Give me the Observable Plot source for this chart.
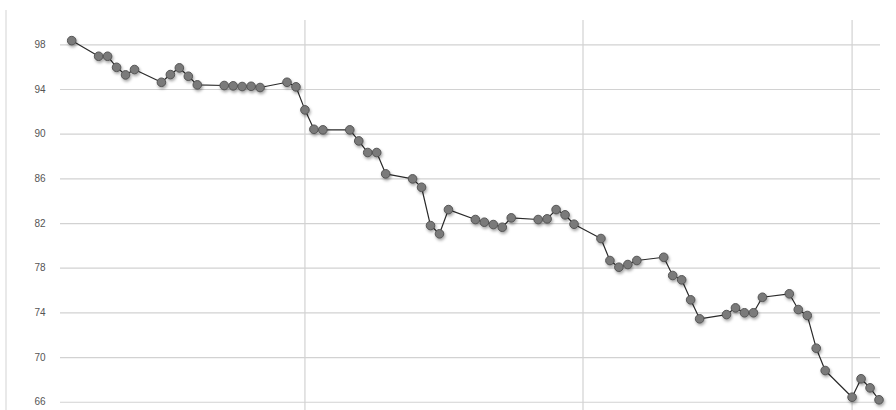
<!DOCTYPE html>
<html>
<head>
<meta charset="utf-8">
<script src="https://cdn.jsdelivr.net/npm/d3@7"></script>
<script src="https://cdn.jsdelivr.net/npm/@observablehq/plot@0.6"></script>
<style>
  html, body { margin: 0; padding: 0; background: #fff; }
  #wrap { position: relative; width: 896px; height: 410px; overflow: hidden; }
  #edge { position: absolute; left: 5px; top: 10px; width: 2px; height: 400px; background: #e9e9e9; }
</style>
</head>
<body>
<div id="wrap"><div id="edge"></div></div>
<script>
const dates = [
  "2014-09-05",
  "2014-09-08","2014-09-09","2014-09-10","2014-09-11","2014-09-12",
  "2014-09-15","2014-09-16","2014-09-17","2014-09-18","2014-09-19",
  "2014-09-22","2014-09-23","2014-09-24","2014-09-25","2014-09-26",
  "2014-09-29","2014-09-30","2014-10-01","2014-10-02","2014-10-03",
  "2014-10-06","2014-10-07","2014-10-08","2014-10-09","2014-10-10",
  "2014-10-13","2014-10-14","2014-10-15","2014-10-16","2014-10-17",
  "2014-10-20","2014-10-21","2014-10-22","2014-10-23","2014-10-24",
  "2014-10-27","2014-10-28","2014-10-29","2014-10-30","2014-10-31",
  "2014-11-03","2014-11-04","2014-11-05","2014-11-06","2014-11-07",
  "2014-11-10","2014-11-11","2014-11-12","2014-11-13","2014-11-14",
  "2014-11-17","2014-11-18","2014-11-19","2014-11-20","2014-11-21",
  "2014-11-24","2014-11-25","2014-11-26","2014-11-27","2014-11-28",
  "2014-12-01","2014-12-02","2014-12-03","2014-12-04"
];
const values = [
  98.38,
  96.98, 96.98, 95.99, 95.31, 95.79,
  94.65, 95.34, 95.94, 95.19, 94.42,
  94.36, 94.33, 94.27, 94.29, 94.18,
  94.65, 94.24, 92.18, 90.44, 90.39,
  90.39, 89.40, 88.36, 88.36, 86.45,
  86.00, 85.25, 81.82, 81.08, 83.25,
  82.36, 82.12, 81.91, 81.67, 82.51,
  82.36, 82.42, 83.25, 82.78, 81.94,
  80.66, 78.69, 78.09, 78.33, 78.69,
  78.98, 77.35, 76.96, 75.17, 73.47,
  73.85, 74.45, 74.01, 74.01, 75.40,
  75.71, 74.30, 73.77, 70.84, 68.84,
  66.45, 68.10, 67.29, 66.22
];
const yTicks = [66, 70, 74, 78, 82, 86, 90, 94, 98];
const monthTicks = ["2014-10-01", "2014-11-01", "2014-12-01"];

const data = dates.map((d, i) => ({date: new Date(d + "T00:00:00Z"), value: values[i]}));
const months = monthTicks.map(d => new Date(d + "T00:00:00Z"));

const chart = Plot.plot({
  width: 896,
  height: 410,
  marginLeft: 60,
  marginRight: 16,
  marginTop: 20,
  marginBottom: 0,
  style: {fontFamily: "'Liberation Sans', Arial, sans-serif", fontSize: "10px", background: "transparent", color: "#555"},
  x: {type: "utc", domain: [new Date("2014-09-03T18:00:00Z"), new Date("2014-12-04T04:00:00Z")], axis: null},
  y: {domain: [65.26, 100.18], ticks: yTicks, tickSize: 0, tickPadding: 15, label: null, tickFormat: d => String(d)},
  marks: [
    Plot.ruleY(yTicks, {stroke: "#d2d2d2", strokeWidth: 1.2}),
    Plot.ruleX(months, {stroke: "#d2d2d2", strokeWidth: 1.2}),
    Plot.line(data, {x: "date", y: "value", stroke: "#2a2a2a", strokeWidth: 1.2}),
    Plot.dot(data, {x: "date", y: "value", r: 4.3, fill: "#7a7a7a", stroke: "#555", strokeWidth: 1})
  ]
});
d3.select(chart).selectAll('g[aria-label="dot"]').style("filter", "drop-shadow(1px 2px 1.5px rgba(0,0,0,0.35))");
document.getElementById("wrap").appendChild(chart);
</script>
</body>
</html>
